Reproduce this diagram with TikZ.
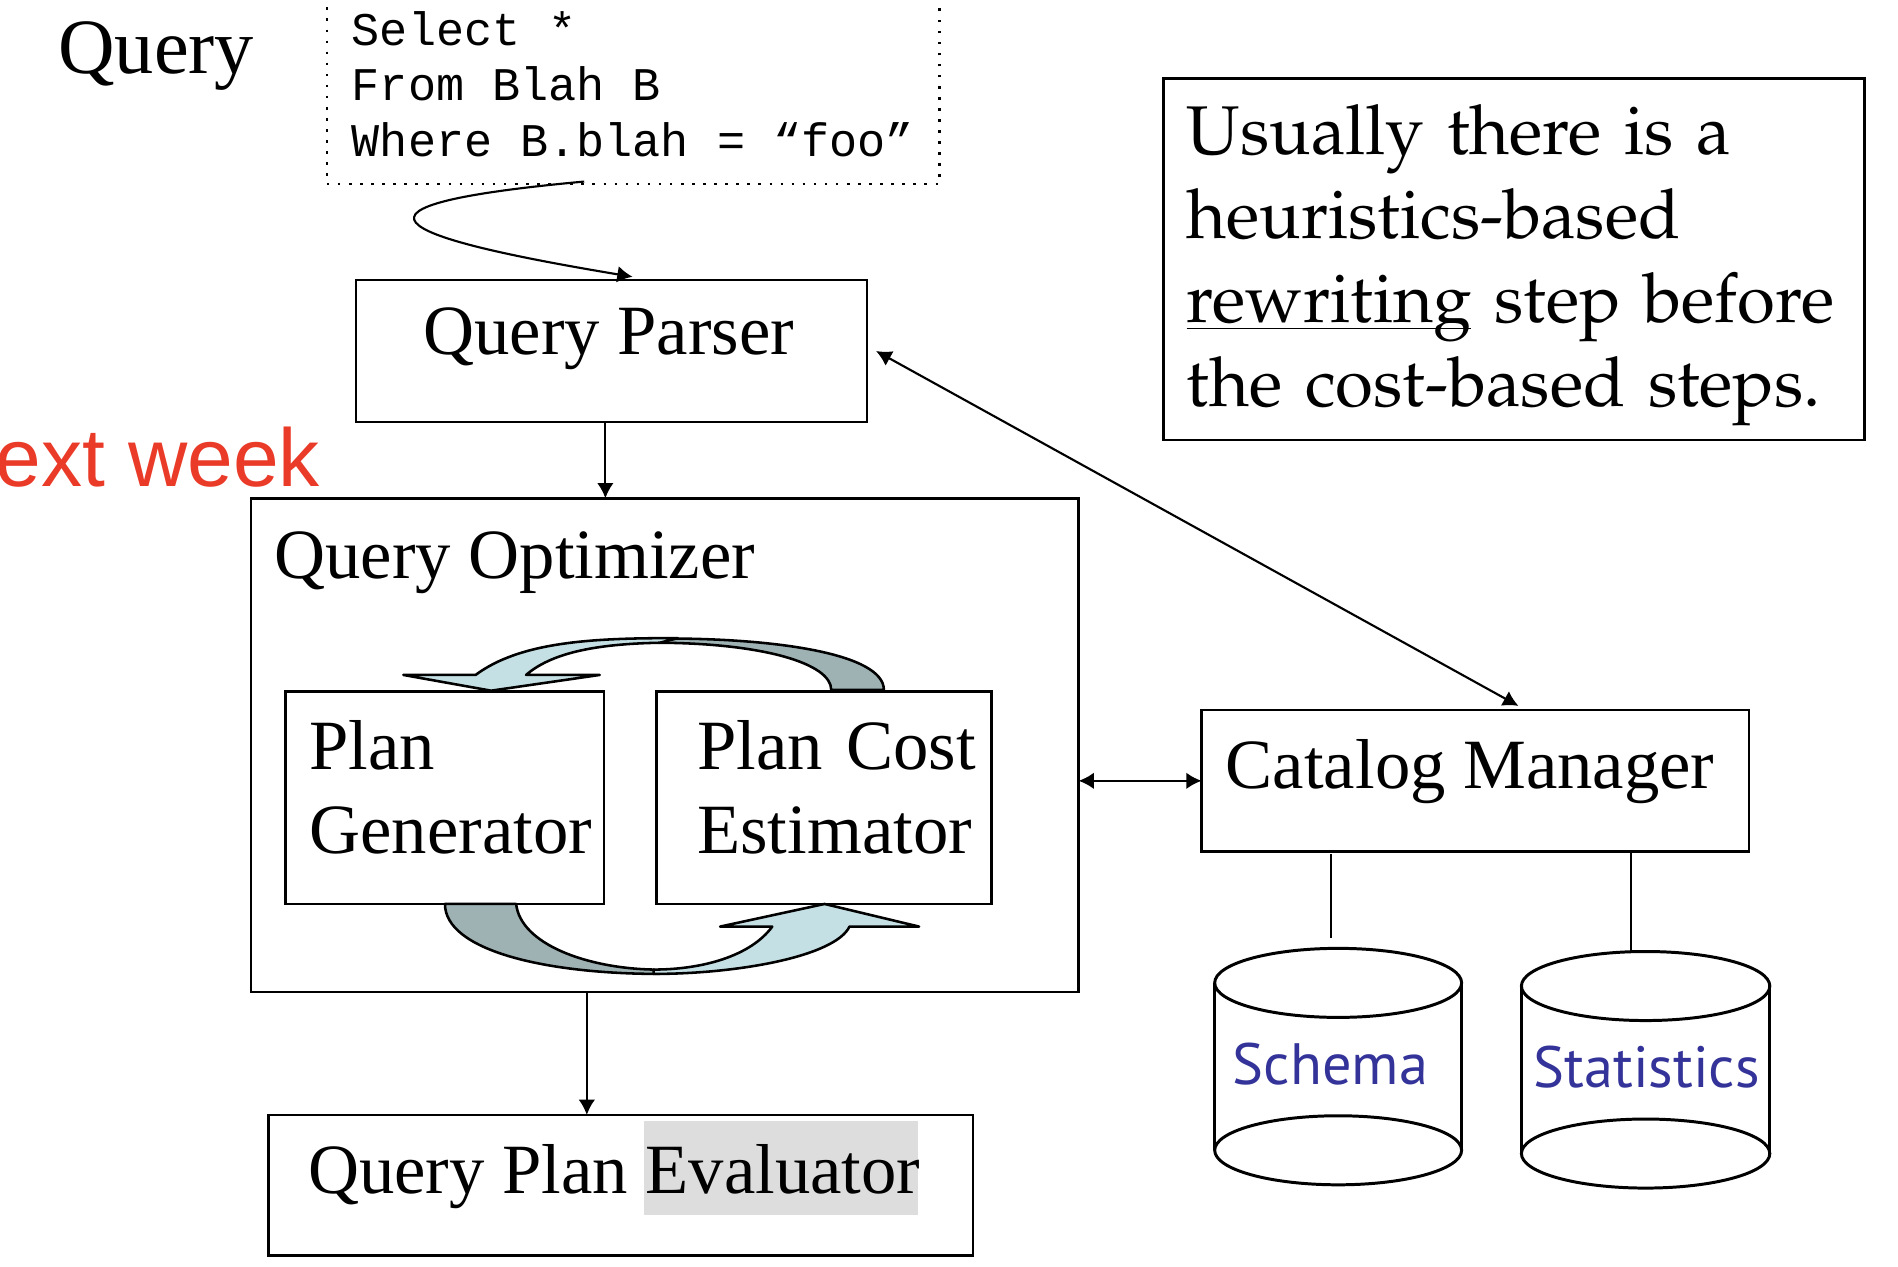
\documentclass[tikz,border=0pt]{standalone}
\usepackage[T1]{fontenc}
\usepackage{fontspec}
\setmainfont{Liberation Serif}
\newfontfamily\codefont{Liberation Mono}
\newfontfamily\redfont{Liberation Sans}
\newfontfamily\dbfont{PT Sans}
\newcommand{\notefont}{\fontencoding{T1}\fontfamily{ppl}\selectfont}
\usetikzlibrary{arrows.meta}
\definecolor{nextred}{RGB}{234,58,40}
\definecolor{dbblue}{RGB}{51,51,153}
\definecolor{evalgrey}{RGB}{221,221,221}
\definecolor{ribbonlight}{RGB}{197,224,228}
\definecolor{ribbondark}{RGB}{158,178,180}
\tikzstyle{box}=[draw=black, line width=0.6pt, inner sep=0pt, outer sep=0pt]
\tikzstyle{lbl}=[inner sep=0pt, font=\fontsize{16.6pt}{19.6pt}\selectfont]
\tikzstyle{code}=[inner sep=0pt, font=\codefont\fontsize{11pt}{13.4pt}\selectfont]
\tikzstyle{arr}=[-{Latex[length=3.6pt,width=3.9pt]}, line width=0.5pt]
\tikzstyle{arrboth}=[{Latex[length=3.6pt,width=3.9pt]}-{Latex[length=3.6pt,width=3.9pt]}, line width=0.5pt]
\tikzstyle{ribbon}=[draw=black, line width=0.6pt, line join=round]
\tikzstyle{db}=[draw=black, line width=0.7pt]

\begin{document}
\begin{tikzpicture}[x=0.01cm,y=-0.01cm]
                    \useasboundingbox (0,0) rectangle (1568,1046);
                    \clip (0,0) rectangle (1568,1046);
                    % query text
                    \node[inner sep=0pt, anchor=base west, font=\fontsize{18.4pt}{22pt}\selectfont] (query) at (47.5,61) {Query};
                    \node[box, dotted, minimum width=5.06cm, minimum height=1.7cm, anchor=south west] (sql) at (270,152) {};
                    \node[code, anchor=base west] (sql1) at (290,37.2) {Select *};
                    \node[code, anchor=base west] (sql2) at (290,83.2) {From Blah B};
                    \node[code, anchor=base west] (sql3) at (290,129.5) {Where B.blah = “foo”};
                    % boxes
                    \node[box, minimum width=4.22cm, minimum height=1.171cm, anchor=north west] (parser) at (294,231.4) {};
                    \node[lbl, anchor=base west] (parserlbl) at (349,292.6) {Query Parser};
                    \node[box, minimum width=6.832cm, minimum height=4.075cm, anchor=north west] (opt) at (207.5,411.7) {};
                    \node[lbl, anchor=base west] (optlbl) at (226,477.8) {Query Optimizer};
                    \node[box, minimum width=2.63cm, minimum height=1.753cm, anchor=north west] (gen) at (236,571.5) {};
                    \node[lbl, anchor=base west, text width=2.4cm, align=left] (genlbl) at (255,636.1) {Plan\\Generator};
                    \node[box, minimum width=2.766cm, minimum height=1.753cm, anchor=north west] (cost) at (542.3,571.5) {};
                    \node[lbl, anchor=base west, text width=2.4cm, align=left] (costlbl) at (575.2,636.1) {Plan Cost\\Estimator};
                    \node[box, minimum width=4.52cm, minimum height=1.171cm, anchor=north west] (catalog) at (992.7,586.5) {};
                    \node[lbl, anchor=base west] (cataloglbl) at (1012,651.2) {Catalog Manager};
                    \fill[evalgrey] (532,925.8) rectangle (758,1003.7);
                    \node[box, minimum width=5.819cm, minimum height=1.162cm, anchor=north west] (eval) at (221.7,921.1) {};
                    \node[lbl, anchor=base west] (evallbl) at (253.8,985.8) {Query Plan Evaluator};
                    \node[inner sep=0pt, anchor=base east, text=nextred, font=\redfont\fontsize{19.3pt}{23pt}\selectfont] (nextweek) at (265,402) {ext week};
                    % note
                    \node[box, minimum width=5.79cm, minimum height=2.988cm, anchor=north west] (note) at (961,64.7) {};
                    \node[inner sep=0pt, anchor=base west, text width=5.9cm, align=left, font=\notefont\fontsize{16.2pt}{19.7pt}\selectfont] (notelbl) at (979.6,128) {Usually there is a\\heuristics-based\\\underline{\smash{rewriting}} step before\\the cost-based steps.};
                    % loop arrows
                    \filldraw[ribbon, fill=ribbondark] (545,527.5) .. controls (640,527) and (730.2,540) .. (730.2,569.9) -- (686.7,569.9) .. controls (686.7,548) and (630,531.5) .. (545,531) -- cycle;
                    \filldraw[ribbon, fill=ribbonlight] (333.2,557.6) -- (392.9,557.6) .. controls (430,530) and (490,527) .. (560,527.2) -- (545,531) .. controls (490,532) and (455,540) .. (434.6,557.6) -- (495.5,557.6) -- (405.7,570.6) -- cycle;
                    \filldraw[ribbon, fill=ribbondark] (367.6,746.8) .. controls (367.6,785) and (450,804.6) .. (545,804.6) -- (540,801) .. controls (485,800) and (430,780) .. (426.4,746.8) -- cycle;
                    \filldraw[ribbon, fill=ribbonlight] (540,804.6) .. controls (610,804.6) and (690,790) .. (701.8,765.5) -- (759.3,765.5) -- (681.2,746.8) -- (594.9,765.5) -- (638,765.5) .. controls (620,790) and (580,801) .. (540,801) -- cycle;
                    % databases
                    \foreach \cx/\rx/\ty/\by in {1105.5/102/812/950.3, 1359.5/102.6/814.6/953}{
                      \draw[db] (\cx-\rx,\ty) -- (\cx-\rx,\by) (\cx+\rx,\ty) -- (\cx+\rx,\by);
                      \draw[db] (\cx,\ty) ellipse [x radius=\rx*0.01cm, y radius=0.285cm];
                      \draw[db] (\cx,\by) ellipse [x radius=\rx*0.01cm, y radius=0.285cm];
                    }
                    \node[inner sep=0pt, anchor=base west, text=dbblue, font=\dbfont\fontsize{13.7pt}{16pt}\selectfont] (schema) at (1017.8,895.9) {Schema};
                    \node[inner sep=0pt, anchor=base west, text=dbblue, font=\dbfont\fontsize{13.7pt}{16pt}\selectfont] (stats) at (1266.4,898.8) {Statistics};
                    \coordinate (schematop) at (1099.8,775);
                    \coordinate (statstop) at (1347.4,786);
                    % connectors
                    \draw[arr] ([xshift=-0.405cm,yshift=0.02cm]sql.south) .. controls (265,170) and (320,195) .. ([xshift=0.175cm,yshift=0.027cm]parser.north);
                    \draw[arr] ([xshift=-0.05cm]parser.south) -- ([xshift=-0.05cm]parser.south |- opt.north);
                    \draw[arr] ([xshift=-0.28cm]eval.north |- opt.south) -- ([xshift=-0.28cm]eval.north);
                    \draw[arrboth] (opt.east |- catalog.west) -- (catalog.west);
                    \draw[arrboth] ([xshift=0.075cm]parser.east) -- ([xshift=0.356cm,yshift=0.033cm]catalog.north);
                    \draw[line width=0.5pt] ([yshift=-0.02cm]catalog.south -| schematop) -- (schematop);
                    \draw[line width=0.5pt] (catalog.south -| statstop) -- (statstop);
\end{tikzpicture}
\end{document}
